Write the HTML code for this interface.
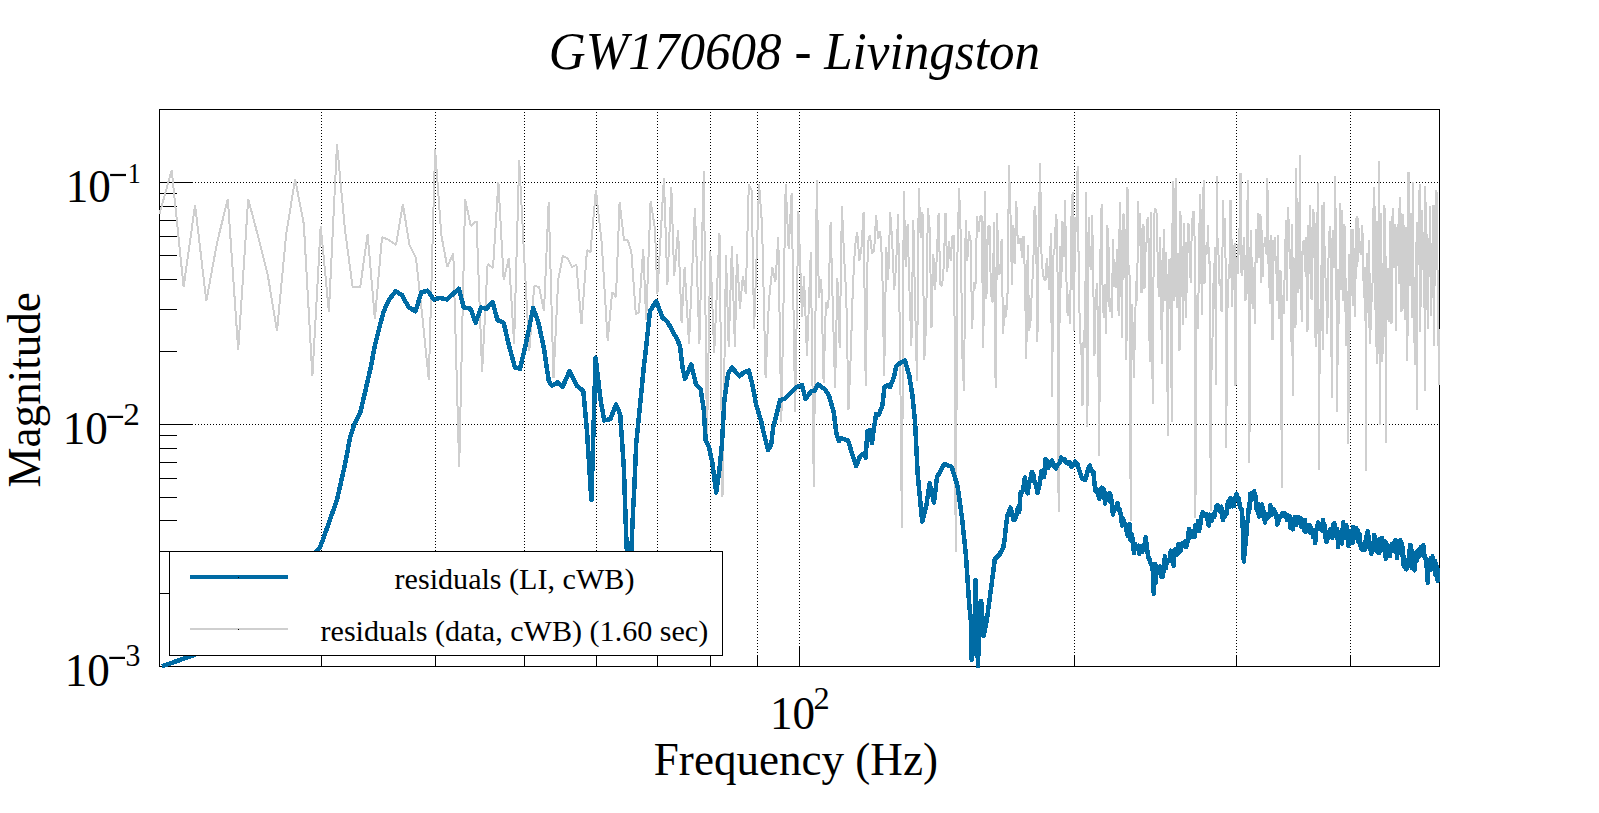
<!DOCTYPE html>
<html><head><meta charset="utf-8"><style>
html,body{margin:0;padding:0;background:#fff;}
svg{display:block;}
text{font-family:"Liberation Serif",serif;fill:#000;}
</style></head><body>
<svg width="1599" height="813" viewBox="0 0 1599 813">
<rect width="1599" height="813" fill="#fff"/>
<path d="M321.5 109V666 M435.5 109V666 M524.5 109V666 M596.5 109V666 M657.5 109V666 M710.5 109V666 M757.5 109V666 M799.5 109V666 M1074.5 109V666 M1236.5 109V666 M1350.5 109V666 M159 182.5H1439 M159 424.5H1439" stroke="#000" stroke-width="1" stroke-dasharray="1 2" fill="none"/>
<path d="M321.5 666V655 M435.5 666V655 M524.5 666V655 M596.5 666V655 M657.5 666V655 M710.5 666V655 M757.5 666V655 M799.5 666V646 M1074.5 666V655 M1236.5 666V655 M1350.5 666V655 M159 666.5H193 M159 593.5H177 M159 551.5H177 M159 520.5H177 M159 497.5H177 M159 478.5H177 M159 462.5H177 M159 448.5H177 M159 435.5H177 M159 424.5H193 M159 351.5H177 M159 309.5H177 M159 279.5H177 M159 255.5H177 M159 236.5H177 M159 220.5H177 M159 206.5H177 M159 193.5H177 M159 182.5H193" stroke="#000" stroke-width="1" fill="none"/>
<rect x="159.5" y="109.5" width="1280" height="557" stroke="#000" stroke-width="1" fill="none"/>
<clipPath id="fc"><rect x="158" y="109" width="1283" height="558"/></clipPath>
<polyline clip-path="url(#fc)" points="159.5,214.0 171.7,170.0 183.6,287.0 195.1,205.0 206.3,301.0 217.2,242.0 227.8,199.0 238.2,350.0 248.2,199.0 258.0,236.0 267.6,274.0 277.0,331.0 286.1,235.0 295.1,179.0 303.8,224.0 312.4,376.0 320.7,226.0 328.9,312.0 337.0,144.0 344.9,229.0 352.6,287.0 360.2,287.0 367.6,234.0 374.9,319.0 382.0,237.0 389.1,240.0 396.0,245.0 402.8,204.0 409.5,245.0 416.0,258.0 422.5,318.0 428.8,380.0 435.1,149.0 441.3,235.0 447.3,267.0 453.3,253.0 459.2,467.0 465.1,199.0 470.8,226.0 476.5,221.0 482.1,372.0 487.6,264.0 493.0,268.0 498.4,182.0 503.7,280.0 508.9,258.0 514.1,344.0 519.2,160.0 524.3,259.0 529.3,351.0 534.2,286.0 539.1,287.0 544.0,311.0 548.7,202.0 553.5,378.0 558.2,280.0 562.8,256.0 567.4,258.0 571.9,267.0 576.4,265.0 581.5,324.0 587.0,250.0 590.5,252.0 595.9,190.0 601.8,243.5 607.7,341.0 612.2,292.0 616.0,297.0 619.6,202.0 624.0,240.0 627.8,240.0 631.4,252.0 635.8,314.0 638.8,313.0 643.2,249.0 646.2,320.0 650.6,201.0 655.0,229.0 657.4,294.0 663.9,178.0 667.4,285.0 671.3,187.0 674.2,276.0 678.1,230.0 681.6,323.0 684.6,267.0 689.0,344.0 694.9,208.0 699.4,344.0 703.8,171.0 707.0,440.0 710.3,250.8 714.2,352.8 719.5,233.1 722.5,497.0 726.0,255.3 728.7,346.9 731.9,246.4 734.9,346.9 737.0,253.8 739.9,308.5 742.9,276.0 745.8,293.7 748.8,184.3 751.7,190.3 754.1,329.2 759.1,184.3 762.1,225.7 765.6,378.0 769.0,300.0 772.4,267.1 775.4,281.9 778.3,237.5 781.3,422.0 785.7,184.3 788.7,249.4 791.6,193.2 795.2,412.0 798.4,210.9 802.0,317.4 804.0,276.0 807.0,355.8 810.8,252.3 813.8,487.0 816.8,179.9 818.9,297.8 821.3,279.5 823.6,383.0 825.9,302.2 828.3,308.2 830.6,222.0 832.9,310.7 835.1,388.0 837.4,278.5 839.7,348.3 841.9,206.0 844.1,256.5 846.3,297.0 848.5,410.0 850.7,356.7 852.9,286.5 855.1,245.3 857.2,232.0 859.4,260.7 861.5,247.1 863.6,212.0 865.7,386.0 867.8,242.6 869.9,235.2 872.0,253.7 874.1,251.0 876.1,215.0 878.2,239.1 880.2,231.0 882.2,263.5 884.2,376.0 886.2,247.2 888.2,279.9 890.2,212.4 892.2,241.0 894.2,289.5 896.1,265.9 898.1,213.6 900.0,345.6 901.9,528.0 903.8,191.0 905.7,266.6 907.6,224.0 909.5,291.3 911.4,346.2 913.3,219.8 915.1,304.5 917.0,381.0 918.8,188.0 920.7,237.6 922.5,212.0 924.3,360.3 926.1,324.7 927.9,208.0 929.7,228.9 931.5,327.5 933.3,253.9 935.1,290.3 936.8,255.8 938.6,213.0 940.3,284.3 942.1,286.0 943.8,265.2 945.5,212.6 947.3,271.5 949.0,241.1 950.7,261.0 952.4,235.8 954.1,236.0 955.7,552.0 957.4,256.0 959.1,188.0 960.7,234.0 962.4,356.8 964.0,391.0 965.7,220.0 967.3,261.0 968.9,231.6 970.6,241.0 972.2,329.4 973.8,282.4 975.4,288.9 977.0,216.3 978.6,232.1 980.1,216.0 981.7,216.3 983.3,348.0 984.8,191.0 986.4,299.0 987.9,227.0 989.5,225.4 991.0,294.6 992.6,302.4 994.1,221.6 995.6,388.0 997.1,213.0 998.6,274.4 1000.1,273.1 1001.6,239.5 1003.1,334.3 1004.6,305.1 1006.1,317.4 1007.6,292.0 1009.0,165.0 1010.5,214.0 1012.0,284.8 1013.4,224.8 1014.9,263.5 1016.3,201.0 1017.8,242.7 1019.2,243.6 1020.6,237.9 1022.0,258.2 1023.5,236.0 1024.9,274.4 1026.3,359.3 1027.7,245.1 1029.1,330.6 1030.5,321.6 1031.9,288.8 1033.2,268.8 1034.6,206.5 1036.0,219.5 1037.4,341.6 1038.7,231.2 1040.1,163.0 1041.4,252.7 1042.8,272.8 1044.1,279.5 1045.5,279.8 1046.8,258.5 1048.1,272.9 1049.5,289.7 1050.8,233.2 1052.1,397.0 1053.4,255.8 1054.7,248.1 1056.0,214.4 1057.3,225.1 1058.6,512.0 1059.9,245.6 1061.2,288.2 1062.5,221.3 1063.8,257.0 1065.1,200.0 1066.3,275.7 1067.6,316.0 1068.9,293.8 1070.1,324.0 1071.4,218.6 1072.6,192.0 1073.9,331.3 1075.1,216.6 1076.4,232.0 1077.6,166.0 1078.8,278.2 1080.1,342.7 1081.3,344.1 1082.5,406.0 1083.7,329.8 1085.0,348.2 1086.2,192.0 1087.4,427.0 1088.6,216.8 1089.8,261.7 1091.0,269.7 1092.2,215.1 1093.3,284.3 1094.5,355.7 1095.7,302.8 1096.9,282.8 1098.1,329.4 1099.2,456.0 1100.4,254.0 1101.6,204.0 1102.7,301.3 1103.9,317.8 1105.0,283.7 1106.2,333.7 1107.3,224.6 1108.5,246.1 1109.6,311.9 1110.8,298.4 1111.9,317.5 1113.0,238.9 1114.2,286.5 1115.3,261.7 1116.4,288.0 1117.5,249.2 1118.6,315.7 1119.8,202.0 1120.9,244.2 1122.0,338.4 1123.1,213.8 1124.2,216.1 1125.3,258.7 1126.4,359.7 1127.5,187.0 1128.5,264.7 1129.6,275.9 1130.7,521.0 1131.8,304.3 1132.9,332.2 1133.9,378.0 1135.0,329.1 1136.1,281.2 1137.1,300.6 1138.2,201.0 1139.3,246.3 1140.3,212.9 1141.4,292.8 1142.4,290.7 1143.5,223.6 1144.5,288.7 1145.6,249.2 1146.6,241.9 1147.6,216.6 1148.7,248.2 1149.7,361.8 1150.7,211.6 1151.8,317.1 1152.8,404.0 1153.8,226.0 1154.8,207.9 1155.8,210.4 1156.8,214.0 1157.9,272.1 1158.9,297.4 1159.9,236.7 1160.9,273.5 1161.9,364.2 1162.9,280.2 1163.9,228.6 1164.9,301.1 1165.9,252.1 1166.8,283.7 1167.8,436.0 1168.8,259.2 1169.8,306.5 1170.8,258.3 1171.7,422.0 1172.7,181.0 1173.7,300.8 1174.7,288.5 1175.6,178.0 1176.6,308.2 1177.5,252.8 1178.5,257.2 1179.5,351.4 1180.4,211.1 1181.4,239.4 1182.3,289.2 1183.3,325.3 1184.2,223.2 1185.2,281.7 1186.1,318.3 1187.0,262.6 1188.0,223.3 1188.9,225.6 1189.8,266.7 1190.8,282.8 1191.7,229.7 1192.6,216.7 1193.5,210.8 1194.5,235.9 1195.4,518.0 1196.3,335.2 1197.2,295.2 1198.1,328.6 1199.0,252.6 1200.0,194.0 1200.9,220.4 1201.8,314.6 1202.7,252.8 1203.6,180.0 1204.5,283.8 1205.4,245.2 1206.3,254.1 1207.2,253.2 1208.0,224.8 1208.9,263.5 1209.8,261.2 1210.7,511.0 1211.6,356.4 1212.5,338.5 1213.3,287.0 1214.2,271.5 1215.1,247.0 1216.0,385.0 1216.8,176.0 1217.7,253.7 1218.6,255.3 1219.4,283.6 1220.3,278.7 1221.2,310.1 1222.0,311.9 1222.9,200.0 1223.7,231.8 1224.6,218.2 1225.4,231.1 1226.3,448.0 1227.1,293.1 1228.0,307.5 1228.8,263.6 1229.7,277.6 1230.5,200.0 1231.4,228.5 1232.2,306.7 1233.0,266.5 1233.9,249.8 1234.7,243.5 1235.5,386.0 1236.4,266.5 1237.2,257.1 1238.0,273.8 1238.8,227.9 1239.7,254.6 1240.5,173.0 1241.3,272.0 1242.1,275.4 1242.9,264.0 1243.8,236.8 1244.6,256.9 1245.4,301.4 1246.2,294.1 1247.0,236.6 1247.8,180.0 1248.6,307.6 1249.4,463.0 1250.2,257.9 1251.0,229.9 1251.8,271.7 1252.6,308.6 1253.4,266.7 1254.2,294.9 1255.0,324.0 1255.8,228.9 1256.6,263.4 1257.3,248.5 1258.1,213.2 1258.9,258.4 1259.7,231.3 1260.5,214.5 1261.3,282.6 1262.0,230.3 1262.8,277.4 1263.6,242.9 1264.4,246.4 1265.1,237.0 1265.9,254.4 1266.7,247.6 1267.4,178.0 1268.2,263.7 1269.0,240.1 1269.7,304.3 1270.5,296.0 1271.2,234.7 1272.0,338.9 1272.8,340.1 1273.5,239.9 1274.3,246.0 1275.0,237.3 1275.8,274.1 1276.5,255.7 1277.3,301.2 1278.0,234.9 1278.8,292.8 1279.5,318.5 1280.2,270.4 1281.0,271.9 1281.7,488.0 1282.5,294.7 1283.2,308.0 1283.9,313.9 1284.7,269.8 1285.4,242.9 1286.1,219.9 1286.9,301.4 1287.6,232.3 1288.3,206.9 1289.1,252.1 1289.8,249.0 1290.5,269.4 1291.2,342.3 1291.9,224.2 1292.7,396.0 1293.4,257.4 1294.1,261.6 1294.8,314.4 1295.5,328.2 1296.2,168.0 1297.0,245.1 1297.7,249.9 1298.4,292.7 1299.1,272.1 1299.8,155.0 1300.5,250.4 1301.2,299.6 1301.9,321.5 1302.6,241.6 1303.3,243.2 1304.0,240.0 1304.7,261.0 1305.4,272.2 1306.1,237.2 1306.8,305.4 1307.5,332.2 1308.2,225.0 1308.9,274.0 1309.6,234.3 1310.2,205.2 1310.9,290.6 1311.6,299.7 1312.3,234.4 1313.0,209.3 1313.7,213.6 1314.4,245.9 1315.0,313.2 1315.7,347.2 1316.4,222.7 1317.1,282.2 1317.7,183.0 1318.4,308.3 1319.1,470.0 1319.8,309.1 1320.4,340.7 1321.1,284.9 1321.8,250.6 1322.4,205.5 1323.1,349.8 1323.8,202.0 1324.4,263.5 1325.1,246.3 1325.8,300.7 1326.4,294.6 1327.1,334.1 1327.7,311.6 1328.4,261.2 1329.1,244.4 1329.7,225.6 1330.4,246.4 1331.0,241.1 1331.7,398.0 1332.3,241.3 1333.0,230.3 1333.6,242.3 1334.3,267.5 1334.9,176.0 1335.6,215.3 1336.2,207.7 1336.9,412.0 1337.5,269.3 1338.1,364.9 1338.8,296.3 1339.4,283.9 1340.1,203.0 1340.7,290.4 1341.3,223.9 1342.0,209.7 1342.6,286.3 1343.2,301.0 1343.9,237.7 1344.5,223.7 1345.1,265.0 1345.8,345.6 1346.4,277.7 1347.0,344.9 1347.6,302.3 1348.3,444.0 1348.9,358.8 1349.5,254.4 1350.1,330.1 1350.8,271.7 1351.4,229.4 1352.0,238.4 1352.6,229.5 1353.2,305.5 1353.9,279.3 1354.5,298.5 1355.1,316.9 1355.7,218.2 1356.3,278.9 1356.9,246.6 1357.5,216.0 1358.2,261.8 1358.8,227.9 1359.4,242.5 1360.0,240.9 1360.6,254.8 1361.2,247.9 1361.8,240.2 1362.4,225.1 1363.0,267.6 1363.6,284.0 1364.2,298.2 1364.8,266.9 1365.4,287.4 1366.0,471.0 1366.6,266.7 1367.2,253.4 1367.8,258.6 1368.4,313.4 1369.0,239.8 1369.6,343.7 1370.2,273.2 1370.8,330.1 1371.3,288.3 1371.9,301.5 1372.5,284.9 1373.1,208.2 1373.7,255.6 1374.3,187.0 1374.9,240.7 1375.5,309.6 1376.0,250.4 1376.6,363.8 1377.2,221.5 1377.8,240.5 1378.4,353.9 1378.9,161.0 1379.5,296.6 1380.1,425.0 1380.7,212.7 1381.3,303.6 1381.8,263.2 1382.4,362.0 1383.0,322.3 1383.6,337.1 1384.1,205.4 1384.7,281.9 1385.3,208.3 1385.8,443.0 1386.4,256.0 1387.0,319.6 1387.5,292.3 1388.1,317.5 1388.7,276.6 1389.2,321.9 1389.8,220.8 1390.4,226.8 1390.9,292.3 1391.5,324.4 1392.0,258.1 1392.6,209.4 1393.2,208.2 1393.7,268.0 1394.3,254.5 1394.8,223.8 1395.4,225.9 1395.9,331.4 1396.5,240.8 1397.1,241.6 1397.6,224.3 1398.2,235.0 1398.7,284.3 1399.3,214.8 1399.8,197.0 1400.4,256.4 1400.9,213.5 1401.5,312.1 1402.0,242.2 1402.5,311.4 1403.1,213.9 1403.6,270.6 1404.2,225.5 1404.7,319.5 1405.3,279.8 1405.8,227.1 1406.3,248.4 1406.9,247.8 1407.4,360.7 1408.0,234.8 1408.5,172.0 1409.0,257.9 1409.6,269.1 1410.1,286.2 1410.6,237.4 1411.2,213.5 1411.7,259.0 1412.2,317.8 1412.8,182.0 1413.3,242.3 1413.8,343.3 1414.4,277.3 1414.9,364.6 1415.4,306.2 1416.0,242.0 1416.5,350.6 1417.0,410.0 1417.5,222.1 1418.1,265.4 1418.6,220.2 1419.1,216.0 1419.6,184.0 1420.1,332.1 1420.7,256.0 1421.2,307.1 1421.7,209.9 1422.2,226.9 1422.7,234.1 1423.3,265.8 1423.8,276.1 1424.3,247.3 1424.8,391.0 1425.3,186.0 1425.8,224.1 1426.4,310.4 1426.9,294.5 1427.4,234.4 1427.9,328.7 1428.4,277.0 1428.9,275.5 1429.4,247.8 1429.9,205.9 1430.5,242.9 1431.0,316.0 1431.5,298.9 1432.0,245.3 1432.5,264.5 1433.0,223.7 1433.5,205.5 1434.0,345.5 1434.5,237.9 1435.0,286.1 1435.5,239.2 1436.0,264.4 1436.5,190.0 1437.0,226.2 1437.5,269.8 1438.0,317.7 1438.5,345.7 1439.0,328.9 1439.5,385.0" fill="none" stroke="#CFCFCF" stroke-width="2" stroke-linejoin="bevel" shape-rendering="crispEdges"/>
<clipPath id="bc"><rect x="150" y="100" width="1290" height="570"/></clipPath>
<polyline clip-path="url(#bc)" points="162.0,666.2 193.0,655.5 260.0,625.0 305.0,565.0 313.0,555.0 319.5,548.0 322.1,541.8 328.3,524.6 336.9,500.0 344.2,468.1 350.4,436.2 354.0,425.1 360.2,412.8 365.1,392.0 370.6,368.0 375.0,345.0 380.0,325.0 383.8,311.2 388.8,300.0 395.6,291.2 401.9,295.0 408.8,307.5 415.6,311.2 421.2,292.5 427.5,290.6 433.8,299.4 440.0,298.0 446.9,299.4 458.8,288.8 463.8,307.5 470.6,308.8 475.6,322.5 481.2,307.5 486.2,308.8 492.5,301.9 497.5,320.0 503.8,323.1 508.8,345.0 515.0,367.5 520.0,368.8 526.2,342.5 533.1,308.1 538.1,321.2 543.8,347.5 548.8,381.2 551.9,385.6 557.5,382.5 562.5,387.0 569.6,371.0 577.0,386.0 583.3,390.9 587.0,431.4 591.4,500.2 595.6,357.5 600.5,399.5 604.2,420.4 610.4,419.1 616.0,404.4 620.2,414.2 623.9,468.3 625.6,520.0 626.6,545.0 629.0,600.0 631.6,545.0 633.0,512.0 634.3,488.0 636.2,443.7 641.1,394.6 643.5,370.0 646.2,346.2 650.0,311.2 656.2,301.2 662.5,317.5 667.5,321.9 677.5,340.0 680.0,346.2 682.5,367.5 685.0,378.8 691.2,364.4 696.2,385.0 700.6,388.8 703.8,410.0 705.6,440.0 708.8,446.2 712.5,463.8 716.2,492.5 719.4,470.0 721.9,445.0 724.4,400.0 728.1,373.8 731.9,367.5 739.4,376.2 743.8,372.5 748.8,370.6 752.5,385.0 756.2,405.0 761.2,421.2 763.0,430.0 768.1,450.0 771.2,445.0 773.1,427.5 776.2,416.2 780.0,400.0 785.0,398.8 791.2,392.5 796.2,387.5 801.9,385.0 805.6,398.8 811.2,391.2 814.4,391.2 818.1,384.4 825.0,389.4 828.8,395.0 833.8,412.5 836.2,432.5 838.8,441.2 841.2,438.1 848.1,440.6 852.5,455.0 856.2,466.2 860.0,456.2 863.1,453.8 865.6,457.5 867.5,431.2 870.0,430.0 871.9,443.0 874.4,425.0 876.2,413.8 878.8,415.0 882.5,405.0 884.4,387.5 887.5,385.0 890.0,386.9 893.8,377.5 896.2,366.2 900.0,363.1 905.0,360.6 909.4,376.2 912.5,396.2 915.0,421.2 917.7,474.3 922.2,521.6 926.6,503.9 929.6,483.2 934.0,502.4 937.0,477.3 944.3,464.0 951.7,466.9 957.6,486.2 962.1,518.7 966.0,556.0 967.6,580.0 969.2,604.0 970.8,620.0 971.6,660.0 974.0,644.0 975.6,580.0 978.0,666.4 979.6,604.0 981.2,600.8 983.6,636.0 986.8,620.0 990.0,596.0 993.2,572.0 994.8,559.2 999.6,554.4 1000.1,553.1 1001.6,551.0 1003.1,548.4 1004.6,540.1 1006.1,525.1 1007.6,515.0 1009.0,511.7 1010.5,507.5 1012.0,512.4 1013.4,519.9 1014.9,519.5 1016.3,515.3 1017.8,508.2 1019.2,511.8 1020.6,492.2 1022.0,492.8 1023.5,487.1 1024.9,477.4 1026.3,486.4 1027.7,493.3 1029.1,483.3 1030.5,479.1 1031.9,471.9 1033.2,473.8 1034.6,481.9 1036.0,484.4 1037.4,492.8 1038.7,488.2 1040.1,481.0 1041.4,471.4 1042.8,475.7 1044.1,476.9 1045.5,459.2 1046.8,460.5 1048.1,468.0 1049.5,462.6 1050.8,464.9 1052.1,460.3 1053.4,465.4 1054.7,467.2 1056.0,468.5 1057.3,464.7 1058.6,464.2 1059.9,461.9 1061.2,457.4 1062.5,459.9 1063.8,460.5 1065.1,459.6 1066.3,462.5 1067.6,463.4 1068.9,462.0 1070.1,462.5 1071.4,466.7 1072.6,465.6 1073.9,465.1 1075.1,461.6 1076.4,464.3 1077.6,464.3 1078.8,469.2 1080.1,472.6 1081.3,476.7 1082.5,478.9 1083.7,479.6 1085.0,480.1 1086.2,476.7 1087.4,472.1 1088.6,467.4 1089.8,465.5 1091.0,470.2 1092.2,471.8 1093.3,471.6 1094.5,483.9 1095.7,491.5 1096.9,489.3 1098.1,493.6 1099.2,498.9 1100.4,493.3 1101.6,487.5 1102.7,493.3 1103.9,489.5 1105.0,503.5 1106.2,493.5 1107.3,497.0 1108.5,500.3 1109.6,492.8 1110.8,495.2 1111.9,505.1 1113.0,514.4 1114.2,506.8 1115.3,508.4 1116.4,508.8 1117.5,502.9 1118.6,510.1 1119.8,509.6 1120.9,515.5 1122.0,525.4 1123.1,518.4 1124.2,522.7 1125.3,523.7 1126.4,530.4 1127.5,535.6 1128.5,529.0 1129.6,524.1 1130.7,540.3 1131.8,534.4 1132.9,541.6 1133.9,553.0 1135.0,543.7 1136.1,546.3 1137.1,549.2 1138.2,545.7 1139.3,553.9 1140.3,545.9 1141.4,551.2 1142.4,551.7 1143.5,545.8 1144.5,545.5 1145.6,537.4 1146.6,545.1 1147.6,552.7 1148.7,558.6 1149.7,559.6 1150.7,563.7 1151.8,564.5 1152.8,571.5 1153.8,593.7 1154.8,563.8 1155.8,582.7 1156.8,566.5 1157.9,572.4 1158.9,571.0 1159.9,566.6 1160.9,576.4 1161.9,573.1 1162.9,576.8 1163.9,567.4 1164.9,556.3 1165.9,568.4 1166.8,560.5 1167.8,560.8 1168.8,560.0 1169.8,560.6 1170.8,550.7 1171.7,556.2 1172.7,559.2 1173.7,565.9 1174.7,549.5 1175.6,550.7 1176.6,552.6 1177.5,554.4 1178.5,543.9 1179.5,550.3 1180.4,551.2 1181.4,543.6 1182.3,546.0 1183.3,542.9 1184.2,543.5 1185.2,541.5 1186.1,547.3 1187.0,542.3 1188.0,540.7 1188.9,529.1 1189.8,538.0 1190.8,534.1 1191.7,530.8 1192.6,533.6 1193.5,536.6 1194.5,536.9 1195.4,525.1 1196.3,525.4 1197.2,528.7 1198.1,520.9 1199.0,531.1 1200.0,527.6 1200.9,517.0 1201.8,516.9 1202.7,512.0 1203.6,513.1 1204.5,515.8 1205.4,514.6 1206.3,514.0 1207.2,514.5 1208.0,524.1 1208.9,525.5 1209.8,514.7 1210.7,518.9 1211.6,520.5 1212.5,514.9 1213.3,514.3 1214.2,517.0 1215.1,511.4 1216.0,509.6 1216.8,505.4 1217.7,505.0 1218.6,506.4 1219.4,509.0 1220.3,512.2 1221.2,506.7 1222.0,510.6 1222.9,520.3 1223.7,514.8 1224.6,516.8 1225.4,512.3 1226.3,514.4 1227.1,506.8 1228.0,501.8 1228.8,501.2 1229.7,507.2 1230.5,497.8 1231.4,501.2 1232.2,506.3 1233.0,505.9 1233.9,506.2 1234.7,497.9 1235.5,498.0 1236.4,493.7 1237.2,497.8 1238.0,500.0 1238.8,498.5 1239.7,505.3 1240.5,507.7 1241.3,508.5 1242.1,511.9 1242.9,531.7 1243.8,561.6 1244.6,552.4 1245.4,544.3 1246.2,537.4 1247.0,524.6 1247.8,520.1 1248.6,509.0 1249.4,509.3 1250.2,493.6 1251.0,499.9 1251.8,499.1 1252.6,497.1 1253.4,491.7 1254.2,491.3 1255.0,499.4 1255.8,496.5 1256.6,508.9 1257.3,510.3 1258.1,503.8 1258.9,516.4 1259.7,515.4 1260.5,507.1 1261.3,515.3 1262.0,504.3 1262.8,510.2 1263.6,510.9 1264.4,518.6 1265.1,522.5 1265.9,514.1 1266.7,519.3 1267.4,516.3 1268.2,513.8 1269.0,516.8 1269.7,512.3 1270.5,505.3 1271.2,514.9 1272.0,514.1 1272.8,511.8 1273.5,509.3 1274.3,510.4 1275.0,513.9 1275.8,513.0 1276.5,515.5 1277.3,524.5 1278.0,523.6 1278.8,518.3 1279.5,516.3 1280.2,516.6 1281.0,516.6 1281.7,515.5 1282.5,513.4 1283.2,513.5 1283.9,515.5 1284.7,513.2 1285.4,514.3 1286.1,515.5 1286.9,519.8 1287.6,515.2 1288.3,517.6 1289.1,517.4 1289.8,516.6 1290.5,528.1 1291.2,522.3 1291.9,521.3 1292.7,529.3 1293.4,519.1 1294.1,522.4 1294.8,516.8 1295.5,523.6 1296.2,525.1 1297.0,520.0 1297.7,517.1 1298.4,520.8 1299.1,517.6 1299.8,518.0 1300.5,518.0 1301.2,526.7 1301.9,520.3 1302.6,527.5 1303.3,523.0 1304.0,530.5 1304.7,519.8 1305.4,531.8 1306.1,525.9 1306.8,530.4 1307.5,526.6 1308.2,524.9 1308.9,528.5 1309.6,532.3 1310.2,525.6 1310.9,530.6 1311.6,528.8 1312.3,530.5 1313.0,537.2 1313.7,535.8 1314.4,532.0 1315.0,542.9 1315.7,539.0 1316.4,529.2 1317.1,529.5 1317.7,525.0 1318.4,522.5 1319.1,528.8 1319.8,528.0 1320.4,524.8 1321.1,526.6 1321.8,523.9 1322.4,530.6 1323.1,519.9 1323.8,530.4 1324.4,524.9 1325.1,537.1 1325.8,531.3 1326.4,542.1 1327.1,532.2 1327.7,536.9 1328.4,534.2 1329.1,534.7 1329.7,537.4 1330.4,529.4 1331.0,536.6 1331.7,532.8 1332.3,537.8 1333.0,530.3 1333.6,523.8 1334.3,523.2 1334.9,527.8 1335.6,528.5 1336.2,535.4 1336.9,528.9 1337.5,534.7 1338.1,547.0 1338.8,537.2 1339.4,532.6 1340.1,543.3 1340.7,537.7 1341.3,536.2 1342.0,543.5 1342.6,530.5 1343.2,522.3 1343.9,538.3 1344.5,534.7 1345.1,527.7 1345.8,525.9 1346.4,525.5 1347.0,531.1 1347.6,536.0 1348.3,545.7 1348.9,530.7 1349.5,533.1 1350.1,542.1 1350.8,539.0 1351.4,539.7 1352.0,540.1 1352.6,542.9 1353.2,526.9 1353.9,538.0 1354.5,533.1 1355.1,537.1 1355.7,534.5 1356.3,528.3 1356.9,535.9 1357.5,530.2 1358.2,541.9 1358.8,536.5 1359.4,533.9 1360.0,538.2 1360.6,546.4 1361.2,548.3 1361.8,546.9 1362.4,549.7 1363.0,545.5 1363.6,547.1 1364.2,548.7 1364.8,549.6 1365.4,544.6 1366.0,536.9 1366.6,537.0 1367.2,534.3 1367.8,531.4 1368.4,536.5 1369.0,547.1 1369.6,542.3 1370.2,549.0 1370.8,542.9 1371.3,554.0 1371.9,546.6 1372.5,546.9 1373.1,545.7 1373.7,548.3 1374.3,534.8 1374.9,549.6 1375.5,542.5 1376.0,548.8 1376.6,550.8 1377.2,547.2 1377.8,552.5 1378.4,543.5 1378.9,553.2 1379.5,539.3 1380.1,543.8 1380.7,540.8 1381.3,550.5 1381.8,537.7 1382.4,539.5 1383.0,541.0 1383.6,546.3 1384.1,542.8 1384.7,547.6 1385.3,541.5 1385.8,558.8 1386.4,550.3 1387.0,544.7 1387.5,548.4 1388.1,548.9 1388.7,550.8 1389.2,551.8 1389.8,556.2 1390.4,546.4 1390.9,549.1 1391.5,546.2 1392.0,544.0 1392.6,544.6 1393.2,550.8 1393.7,543.3 1394.3,546.8 1394.8,542.5 1395.4,539.8 1395.9,547.3 1396.5,550.8 1397.1,557.9 1397.6,549.7 1398.2,547.7 1398.7,546.3 1399.3,546.6 1399.8,548.0 1400.4,540.3 1400.9,544.6 1401.5,542.8 1402.0,554.9 1402.5,547.1 1403.1,550.0 1403.6,565.9 1404.2,562.6 1404.7,567.2 1405.3,560.1 1405.8,563.8 1406.3,569.4 1406.9,564.3 1407.4,566.2 1408.0,561.8 1408.5,563.3 1409.0,558.5 1409.6,551.9 1410.1,545.2 1410.6,552.1 1411.2,546.0 1411.7,568.2 1412.2,552.7 1412.8,552.3 1413.3,553.9 1413.8,556.8 1414.4,570.3 1414.9,562.4 1415.4,557.7 1416.0,554.2 1416.5,561.5 1417.0,556.6 1417.5,550.8 1418.1,550.6 1418.6,556.8 1419.1,549.6 1419.6,555.9 1420.1,553.0 1420.7,547.1 1421.2,549.1 1421.7,548.9 1422.2,551.6 1422.7,546.6 1423.3,545.1 1423.8,554.4 1424.3,554.0 1424.8,557.6 1425.3,559.0 1425.8,558.3 1426.4,567.1 1426.9,562.7 1427.4,578.2 1427.9,582.7 1428.4,560.7 1428.9,565.9 1429.4,568.1 1429.9,570.0 1430.5,558.4 1431.0,567.9 1431.5,564.7 1432.0,562.8 1432.5,556.4 1433.0,569.0 1433.5,568.9 1434.0,567.7 1434.5,565.5 1435.0,561.1 1435.5,575.2 1436.0,563.9 1436.5,576.0 1437.0,566.8 1437.5,580.7 1438.0,578.2 1438.5,570.3 1439.0,571.7 1439.5,567.9" fill="none" stroke="#006BA4" stroke-width="4.5" stroke-linejoin="round" shape-rendering="crispEdges"/>
<rect x="169.5" y="551.5" width="553" height="104" stroke="#000" stroke-width="1" fill="#fff"/>
<path d="M190 577H288" stroke="#006BA4" stroke-width="4"/>
<path d="M190 629H288" stroke="#CFCFCF" stroke-width="2"/>
<rect x="238" y="577" width="1" height="1" fill="#000"/><rect x="238" y="629" width="1" height="1" fill="#000"/>
<text x="394.60" y="588.90" font-size="30.1">residuals (LI, cWB)</text>
<text x="320.50" y="640.90" font-size="30.1">residuals (data, cWB) (1.60 sec)</text>
<text transform="translate(548.80 69.30) scale(0.961 1)" font-size="53.2" font-style="italic">GW170608 - Livingston</text>
<text transform="translate(653.80 774.70) scale(0.974 1)" font-size="46.3">Frequency (Hz)</text>
<text transform="translate(40 487.5) rotate(-90) scale(0.974 1)" font-size="46.3">Magnitude</text>
<text transform="translate(65.70 202.20) scale(0.968 1)" font-size="46.67">10</text>
<text transform="translate(62.70 444.20) scale(0.968 1)" font-size="46.67">10</text>
<text transform="translate(64.70 686.20) scale(0.968 1)" font-size="46.67">10</text>
<text transform="translate(769.90 729.40) scale(0.968 1)" font-size="46.67">10</text>
<text transform="translate(127.70 182.80) scale(0.85 1)" font-size="30.5">1</text>
<text transform="translate(123.30 424.90) scale(1.07 1)" font-size="31">2</text>
<text transform="translate(125.50 666.10) scale(0.97 1)" font-size="30.7">3</text>
<text transform="translate(813.60 708.90) scale(1.04 1)" font-size="31.1">2</text>
<rect x="110.1" y="173.9" width="15.9" height="2.2" fill="#000"/>
<rect x="107.2" y="415.8" width="15.9" height="2.2" fill="#000"/>
<rect x="109.3" y="656.8" width="15.7" height="2.2" fill="#000"/>
</svg></body></html>
